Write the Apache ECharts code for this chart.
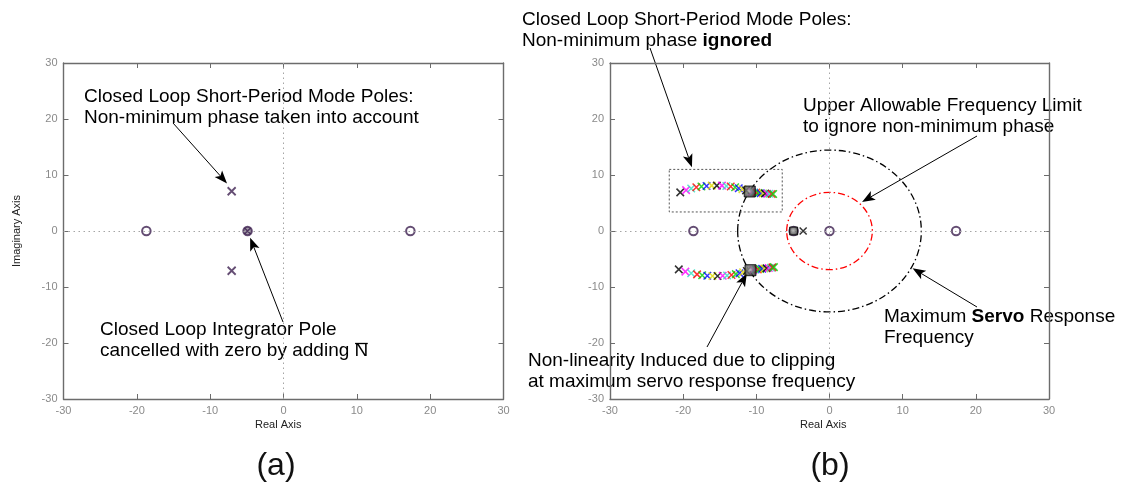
<!DOCTYPE html>
<html>
<head>
<meta charset="utf-8">
<script src="https://cdn.jsdelivr.net/npm/echarts@6/dist/echarts.min.js"></script>
<style>
  html, body { margin: 0; padding: 0; background: #fff; }
  #chart { width: 1122px; height: 486px; }
</style>
</head>
<body>
<div id="chart"></div>
<script>
// ---- Pole / zero locations (real, imaginary) ----
// Panel (a): non-minimum phase taken into account
const aZeros = [[-18.7, 0], [17.3, 0]];
const aPoles = [[-7.07, 7.1], [-7.07, -7.1]];
const aCancelled = [[-4.9, 0]];

// Panel (b): short-period pole loci while the non-minimum phase is ignored
const bUpperReal = [-20.4, -19.6, -18.9, -18.2, -17.5, -16.8, -16.1, -15.4, -14.7, -14.1, -13.5, -12.9, -12.4, -11.9, -11.4,
                    -10.6, -10.3, -10.0, -9.7, -9.4, -9.1, -8.8, -8.5, -8.2, -7.9, -7.7];
const bUpperImag = [6.9, 7.3, 7.6, 7.8, 7.95, 8.05, 8.1, 8.1, 8.1, 8.05, 7.95, 7.8, 7.65, 7.45, 7.25,
                    6.95, 6.9, 6.85, 6.8, 6.75, 6.7, 6.7, 6.65, 6.65, 6.6, 6.6];
const bLowerReal = [-20.6, -19.7, -18.9, -18.1, -17.4, -16.7, -16.0, -15.3, -14.6, -14.0, -13.4, -12.8, -12.3, -11.8, -11.3,
                    -10.4, -10.1, -9.8, -9.5, -9.2, -8.9, -8.6, -8.3, -8.0, -7.8, -7.6];
const bLowerImag = [-6.85, -7.25, -7.55, -7.75, -7.9, -8.0, -8.05, -8.05, -8.0, -7.95, -7.85, -7.7, -7.55, -7.35, -7.15,
                    -6.95, -6.9, -6.85, -6.8, -6.75, -6.7, -6.65, -6.6, -6.55, -6.5, -6.45];
const bClipped = [[-10.9, 7.05], [-10.8, -7.0]];
const bZeros = [[-18.6, 0], [0, 0], [17.3, 0]];
const bCancelled = [[-4.9, 0]];
const bRealPoles = [[-3.6, 0]];

// Frequency limits drawn round the origin: [centre re, centre im, radius re, radius im]
const servoLimit = [0, 0, 12.55, 14.45];
const nmpLimit = [0, 0, 5.85, 6.9];
// Box round the ignored short-period poles: [re min, im min, re max, im max]
const ignoredBox = [-21.9, 3.4, -6.46, 11.0];

// Axis ticks
const axisMin = -30, axisMax = 30, axisStep = 10;

// Colour cycle of the locus markers
const locusColors = ['#000000', '#ff00ff', '#33e0c0', '#ff0000', '#00d000', '#0000ff', '#e0d800'];

const FONT = '"Liberation Sans", Arial, Helvetica, sans-serif';
const AXIS_COLOR = '#6c6c6c';
const TICK_LABEL_COLOR = '#8a8a8a';
const MARK_COLOR = '#3d2050';
const CROSS = 'path://M0,0L10,10M10,0L0,10';

const chart = echarts.init(document.getElementById('chart'));

function xAxisPair(grid) {
  const common = {
    type: 'value', gridIndex: grid, min: axisMin, max: axisMax, interval: axisStep,
    axisLine: { show: true, onZero: false, lineStyle: { color: AXIS_COLOR, width: 1.4 } },
    axisTick: { show: true, inside: true, length: 5, lineStyle: { color: AXIS_COLOR, width: 1 } },
    splitLine: { show: false }
  };
  return [
    Object.assign({}, common, { position: 'bottom',
      axisLabel: { color: TICK_LABEL_COLOR, fontSize: 11, fontFamily: FONT, margin: 6 } }),
    Object.assign({}, common, { position: 'top', axisLabel: { show: false } })
  ];
}
function yAxisPair(grid) {
  const common = {
    type: 'value', gridIndex: grid, min: axisMin, max: axisMax, interval: axisStep,
    axisLine: { show: true, onZero: false, lineStyle: { color: AXIS_COLOR, width: 1.4 } },
    axisTick: { show: true, inside: true, length: 5, lineStyle: { color: AXIS_COLOR, width: 1 } },
    splitLine: { show: false }
  };
  return [
    Object.assign({}, common, { position: 'left',
      axisLabel: { color: TICK_LABEL_COLOR, fontSize: 11, fontFamily: FONT, margin: 6 } }),
    Object.assign({}, common, { position: 'right', axisLabel: { show: false } })
  ];
}

const zeroLines = {
  silent: true, symbol: 'none', label: { show: false },
  lineStyle: { color: '#a5a5a5', type: [1.5, 3.5], width: 1 },
  data: [{ xAxis: 0 }, { yAxis: 0 }]
};

function crossSeries(axis, data, color, size, width) {
  return {
    type: 'scatter', xAxisIndex: axis, yAxisIndex: axis, symbol: CROSS, symbolSize: size,
    data: data, silent: true, z: 4,
    itemStyle: { color: 'none', borderColor: color, borderWidth: width }
  };
}
function circleSeries(axis, data, extra) {
  return Object.assign({
    type: 'scatter', xAxisIndex: axis, yAxisIndex: axis, symbol: 'circle', symbolSize: 8.5,
    data: data, silent: true, z: 3,
    itemStyle: { color: 'rgba(255,255,255,0)', borderColor: MARK_COLOR, borderWidth: 2 }
  }, extra || {});
}
function squareSeries(axis, data, size) {
  return {
    type: 'scatter', xAxisIndex: axis, yAxisIndex: axis, symbol: 'rect', symbolSize: size,
    data: data, silent: true, z: 5,
    itemStyle: {
      color: new echarts.graphic.RadialGradient(0.45, 0.45, 0.7, [
        { offset: 0, color: '#a8a8a8' }, { offset: 1, color: '#151515' }]),
      borderColor: '#000', borderWidth: 1
    }
  };
}
function locusData(re, im) {
  return re.map((x, i) => ({
    value: [x, im[i]],
    itemStyle: { borderColor: locusColors[i % locusColors.length] }
  }));
}
function ellipseSeries(axis, spec, color) {
  return {
    type: 'custom', xAxisIndex: axis, yAxisIndex: axis, silent: true, clip: false, z: 2,
    data: [spec],
    renderItem: function (params, api) {
      const c = api.coord([api.value(0), api.value(1)]);
      const s = api.size([api.value(2), api.value(3)]);
      return {
        type: 'ellipse',
        shape: { cx: c[0], cy: c[1], rx: s[0], ry: s[1] },
        style: { fill: 'none', stroke: color, lineWidth: 1.3, lineDash: [7, 3, 1.5, 3] }
      };
    }
  };
}
function boxSeries(axis, spec) {
  return {
    type: 'custom', xAxisIndex: axis, yAxisIndex: axis, silent: true, z: 2,
    data: [spec],
    renderItem: function (params, api) {
      const p0 = api.coord([api.value(0), api.value(3)]);
      const p1 = api.coord([api.value(2), api.value(1)]);
      return {
        type: 'rect',
        shape: { x: p0[0], y: p0[1], width: p1[0] - p0[0], height: p1[1] - p0[1] },
        style: { fill: 'none', stroke: '#555', lineWidth: 1, lineDash: [2, 2] }
      };
    }
  };
}

const xa = xAxisPair(0), xb = xAxisPair(1);
const ya = yAxisPair(0), yb = yAxisPair(1);

chart.setOption({
  animation: false,
  backgroundColor: '#fff',
  grid: [
    { left: 63.5, top: 63, width: 440, height: 336 },
    { left: 610, top: 63, width: 439, height: 336 }
  ],
  // axis order: 0 = (a) main, 1 = (a) mirror, 2 = (b) main, 3 = (b) mirror
  xAxis: [xa[0], xa[1], xb[0], xb[1]],
  yAxis: [ya[0], ya[1], yb[0], yb[1]],
  series: [
    // ---- (a) ----
    Object.assign(circleSeries(0, aZeros), { markLine: zeroLines }),
    circleSeries(0, aCancelled, { itemStyle: { color: '#8a8090', borderColor: MARK_COLOR, borderWidth: 2 } }),
    crossSeries(0, aCancelled, MARK_COLOR, 6, 1.6),
    crossSeries(0, aPoles, MARK_COLOR, 8, 1.8),
    // ---- (b) ----
    Object.assign(ellipseSeries(2, servoLimit, '#000'), { markLine: zeroLines }),
    ellipseSeries(2, nmpLimit, '#ff0000'),
    boxSeries(2, ignoredBox),
    circleSeries(2, bZeros),
    squareSeries(2, bCancelled, 8),
    circleSeries(2, bCancelled, { itemStyle: { color: 'rgba(0,0,0,0)', borderColor: MARK_COLOR, borderWidth: 2 } }),
    crossSeries(2, bRealPoles, '#000', 7, 1.5),
    {
      type: 'scatter', xAxisIndex: 2, yAxisIndex: 2, symbol: CROSS, symbolSize: 7.5, silent: true, z: 4,
      data: locusData(bUpperReal, bUpperImag),
      itemStyle: { color: 'none', borderWidth: 1.5 }
    },
    {
      type: 'scatter', xAxisIndex: 2, yAxisIndex: 2, symbol: CROSS, symbolSize: 7.5, silent: true, z: 4,
      data: locusData(bLowerReal, bLowerImag),
      itemStyle: { color: 'none', borderWidth: 1.5 }
    },
    squareSeries(2, bClipped, 11)
  ]
});

// ---- Annotations: text blocks and arrows pointing at features of the planes ----
const TEXT_SIZE = 19, LINE_H = 21;
const notes = [
  { x: 84, y: 86, text: 'Closed Loop Short-Period Mode Poles:\nNon-minimum phase taken into account' },
  { x: 100, y: 319, text: 'Closed Loop Integrator Pole\ncancelled with zero by adding N', overlineLast: true },
  { x: 522, y: 9, text: 'Closed Loop Short-Period Mode Poles:\nNon-minimum phase {b|ignored}' },
  { x: 803, y: 95, text: 'Upper Allowable Frequency Limit\nto ignore non-minimum phase' },
  { x: 884, y: 306, text: 'Maximum {b|Servo} Response\nFrequency' },
  { x: 528, y: 350, text: 'Non-linearity Induced due to clipping\nat maximum servo response frequency' }
];
// arrow: start in pixels (at its text), tip in plane coordinates
const arrows = [
  { grid: 0, from: [173, 123], to: [-7.7, 8.5] },
  { grid: 0, from: [283, 322], to: [-4.55, -1.2] },
  { grid: 1, from: [650, 48], to: [-18.8, 11.4] },
  { grid: 1, from: [977, 136], to: [4.45, 5.2] },
  { grid: 1, from: [977, 307], to: [11.35, -6.65] },
  { grid: 1, from: [707, 347], to: [-11.3, -7.6] }
];

function arrowShapes(p0, p1) {
  const dx = p1[0] - p0[0], dy = p1[1] - p0[1];
  const len = Math.hypot(dx, dy);
  const ux = dx / len, uy = dy / len, nx = -uy, ny = ux;
  const hl = 13, hw = 5, notch = 3;
  const back = [p1[0] - ux * hl, p1[1] - uy * hl];
  const inner = [p1[0] - ux * (hl - notch), p1[1] - uy * (hl - notch)];
  return [
    { type: 'line', silent: true, shape: { x1: p0[0], y1: p0[1], x2: inner[0], y2: inner[1] },
      style: { stroke: '#000', lineWidth: 1 } },
    { type: 'polygon', silent: true,
      shape: { points: [p1, [back[0] + nx * hw, back[1] + ny * hw], inner, [back[0] - nx * hw, back[1] - ny * hw]] },
      style: { fill: '#000' } }
  ];
}

const measure = document.createElement('canvas').getContext('2d');
measure.font = TEXT_SIZE + 'px ' + FONT;

const graphics = [];
notes.forEach(n => {
  graphics.push({
    type: 'text', left: n.x, top: n.y, silent: true,
    style: {
      text: n.text, fill: '#000', fontSize: TEXT_SIZE, fontFamily: FONT, lineHeight: LINE_H,
      rich: { b: { fontWeight: 'bold', fontSize: TEXT_SIZE, fontFamily: FONT, lineHeight: LINE_H } }
    }
  });
  if (n.overlineLast) {
    const lines = n.text.split('\n');
    const last = lines[lines.length - 1];
    const x0 = n.x + measure.measureText(last.slice(0, -1)).width;
    const x1 = x0 + measure.measureText(last.slice(-1)).width;
    const y = n.y + LINE_H + 3.5;
    graphics.push({ type: 'line', silent: true, shape: { x1: x0 + 0.5, y1: y, x2: x1 - 0.5, y2: y },
      style: { stroke: '#000', lineWidth: 1.3 } });
  }
});
arrows.forEach(a => {
  const tip = chart.convertToPixel({ gridIndex: a.grid }, a.to);
  arrowShapes(a.from, tip).forEach(s => graphics.push(s));
});

// axis titles and panel captions
graphics.push(
  { type: 'text', left: 255, top: 419, silent: true,
    style: { text: 'Real Axis', fill: '#222', fontSize: 11, fontFamily: FONT } },
  { type: 'text', left: 800, top: 419, silent: true,
    style: { text: 'Real Axis', fill: '#222', fontSize: 11, fontFamily: FONT } },
  { type: 'text', x: 17, y: 231, rotation: Math.PI / 2, silent: true,
    style: { text: 'Imaginary Axis', fill: '#222', fontSize: 11, fontFamily: FONT, align: 'center', verticalAlign: 'middle' } },
  { type: 'text', x: 276, y: 466, silent: true,
    style: { text: '(a)', fill: '#111', fontSize: 32, fontFamily: FONT, align: 'center', verticalAlign: 'middle' } },
  { type: 'text', x: 830, y: 466, silent: true,
    style: { text: '(b)', fill: '#111', fontSize: 32, fontFamily: FONT, align: 'center', verticalAlign: 'middle' } }
);

chart.setOption({ graphic: graphics });
</script>
</body>
</html>
